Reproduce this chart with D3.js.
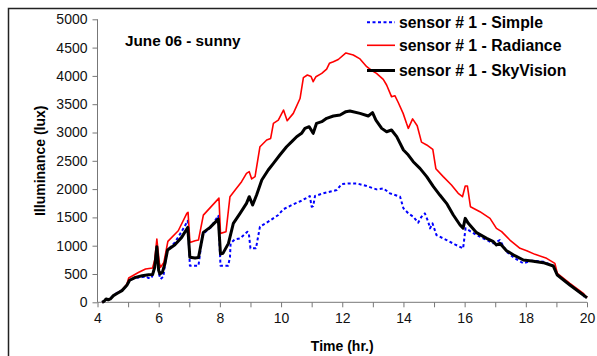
<!DOCTYPE html>
<html>
<head>
<meta charset="utf-8">
<script src="https://cdn.jsdelivr.net/npm/d3@7"></script>
<style>
  body { margin: 0; background: #fff; }
  svg { display: block; font-family: "Liberation Sans", Arial, sans-serif; }
</style>
</head>
<body>
<svg id="chart"></svg>
<script>
/// data: [time (hr), illuminance (lux)] ///
const simple = [[4.15,0],[4.22,20],[4.28,60],[4.35,50],[4.42,65],[4.52,120],[4.65,170],[4.8,215],[4.96,300],[5.05,390],[5.24,430],[5.46,445],[5.6,455],[5.66,430],[5.77,430],[5.87,620],[5.94,1000],[6.02,480],[6.06,412],[6.15,450],[6.27,910],[6.53,1058],[6.75,1250],[6.95,1440],[7.02,647],[7.3,647],[7.44,1205],[7.68,1311],[7.95,1529],[8.02,647],[8.27,647],[8.33,794],[8.35,1041],[8.49,1112],[8.66,1129],[8.9,1247],[8.95,1200],[9.0,953],[9.18,953],[9.31,1336],[9.58,1424],[9.91,1542],[10.07,1642],[10.35,1718],[10.67,1795],[10.94,1877],[11.0,1689],[11.05,1700],[11.11,1877],[11.38,1925],[11.82,1984],[11.98,2090],[12.2,2101],[12.47,2101],[12.8,2054],[13.12,1995],[13.34,2013],[13.56,1925],[13.89,1866],[14.0,1660],[14.16,1571],[14.32,1512],[14.48,1406],[14.59,1512],[14.7,1571],[14.81,1424],[14.87,1306],[14.95,1395],[15.08,1188],[15.41,1100],[15.68,1023],[15.95,953],[16.03,1307],[16.39,1189],[16.94,1042],[17.15,1100],[17.37,894],[17.64,777],[17.92,688],[18.19,735],[18.57,718],[18.9,641],[19.03,482],[19.44,305],[19.88,129],[19.93,87],[20.0,80]];

const radiance = [[4.15,0],[4.22,20],[4.28,60],[4.35,45],[4.42,65],[4.52,120],[4.65,165],[4.8,215],[4.96,320],[5.02,430],[5.35,530],[5.57,588],[5.8,605],[5.87,750],[5.94,1117],[6.02,700],[6.06,617],[6.17,705],[6.3,1076],[6.64,1264],[6.92,1570],[6.96,1590],[7.02,1058],[7.19,1088],[7.3,1100],[7.46,1540],[7.97,1840],[8.02,1218],[8.2,1247],[8.33,1866],[8.5,1984],[8.71,2131],[8.87,2278],[8.96,2308],[9.04,2180],[9.15,2219],[9.31,2749],[9.53,2867],[9.66,2896],[9.75,3162],[9.91,3220],[10.08,3397],[10.2,3209],[10.4,3338],[10.62,3600],[10.73,3970],[10.86,4016],[10.98,3990],[11.05,3898],[11.14,3986],[11.33,4045],[11.49,4120],[11.58,4222],[11.71,4251],[11.87,4290],[12.12,4405],[12.36,4370],[12.58,4300],[12.8,4163],[12.95,4100],[13.12,4045],[13.34,3940],[13.45,3839],[13.61,3633],[13.72,3650],[13.83,3530],[13.99,3338],[14.1,3162],[14.16,3073],[14.3,3240],[14.45,3120],[14.59,2830],[14.76,2780],[14.96,2700],[15.06,2360],[15.3,2220],[15.57,2072],[15.79,1925],[15.93,1866],[16.02,2055],[16.09,2055],[16.19,1689],[16.5,1601],[16.83,1483],[17.04,1307],[17.21,1248],[17.48,1100],[17.81,953],[18.03,912],[18.3,847],[18.68,777],[18.95,688],[19.03,511],[19.44,335],[19.88,158],[19.98,87],[20.0,110]];

const skyVision = [[4.15,0],[4.22,20],[4.28,60],[4.35,45],[4.42,60],[4.52,118],[4.65,160],[4.8,206],[4.96,300],[5.05,390],[5.24,441],[5.46,470],[5.67,488],[5.8,490],[5.87,620],[5.94,982],[6.0,560],[6.04,500],[6.12,530],[6.2,676],[6.29,923],[6.53,1017],[6.75,1147],[6.95,1323],[7.02,794],[7.19,782],[7.3,790],[7.46,1235],[7.68,1323],[7.95,1470],[8.02,853],[8.1,864],[8.28,1041],[8.44,1394],[8.66,1571],[8.87,1748],[8.96,1866],[9.07,1718],[9.2,1895],[9.37,2160],[9.58,2337],[9.75,2455],[9.96,2602],[10.18,2749],[10.35,2838],[10.51,2926],[10.67,2985],[10.78,3073],[10.92,3103],[11.05,2985],[11.16,3162],[11.33,3191],[11.49,3250],[11.71,3291],[11.93,3309],[12.12,3368],[12.25,3380],[12.58,3338],[12.85,3291],[12.99,3350],[13.1,3220],[13.29,3073],[13.45,3014],[13.61,3044],[13.78,2926],[14.0,2690],[14.16,2602],[14.32,2484],[14.54,2366],[14.76,2220],[14.98,2043],[15.19,1895],[15.41,1748],[15.63,1542],[15.85,1366],[15.95,1310],[16.02,1483],[16.12,1395],[16.39,1230],[16.72,1130],[16.94,1071],[17.04,1012],[17.15,1042],[17.37,912],[17.64,824],[17.92,747],[18.19,729],[18.57,700],[18.9,641],[19.03,482],[19.44,305],[19.88,129],[19.95,100],[20.0,80]];

const seriesNames = ["sensor # 1 - Simple", "sensor # 1 - Radiance", "sensor # 1 - SkyVision"];
const yTicks = [0, 500, 1000, 1500, 2000, 2500, 3000, 3500, 4000, 4500, 5000];
const xTicks = [4, 5, 6, 7, 8, 9, 10, 11, 12, 13, 14, 15, 16, 17, 18, 19, 20];
const title = "June 06 - sunny";

/// dimensions ///
const width = 597, height = 356;
const margin = {top: 19.3, right: 10, bottom: 53.7, left: 97.5};

const svg = d3.select("#chart").attr("width", width).attr("height", height);

// outer frame (runs off the right and bottom edges)
svg.append("rect")
  .attr("x", 8.5).attr("y", 8.5)
  .attr("width", 640).attr("height", 400)
  .attr("fill", "none").attr("stroke", "#222").attr("stroke-width", 1.5);

/// scales ///
const x = d3.scaleLinear().domain([4, 20]).range([margin.left, width - margin.right]);
const y = d3.scaleLinear().domain([0, 5000]).range([height - margin.bottom, margin.top]);

/// axes ///
const axisColor = "#777";
svg.append("g")
  .attr("transform", `translate(0,${y(0)})`)
  .call(d3.axisBottom(x).tickValues(xTicks).tickSize(5).tickPadding(6)
    .tickFormat(d => d % 2 === 0 ? d : ""))
  .call(g => g.select(".domain").attr("stroke", axisColor).attr("d", `M${x(4)},0H${x(20)}`))
  .call(g => g.selectAll(".tick line").attr("stroke", axisColor))
  .call(g => g.selectAll(".tick text").attr("font-size", 14).attr("fill", "#111")
    .attr("font-family", "Liberation Sans, Arial, sans-serif"));

svg.append("g")
  .attr("transform", `translate(${x(4)},0)`)
  .call(d3.axisLeft(y).tickValues(yTicks).tickSize(5).tickPadding(5).tickFormat(d3.format("d")))
  .call(g => g.select(".domain").attr("stroke", axisColor).attr("d", `M0,${y(0)}V${y(5000)}`))
  .call(g => g.selectAll(".tick line").attr("stroke", axisColor))
  .call(g => g.selectAll(".tick text").attr("font-size", 14).attr("fill", "#111")
    .attr("font-family", "Liberation Sans, Arial, sans-serif"));

// axis titles
svg.append("text")
  .attr("x", (x(4) + x(20)) / 2).attr("y", 351)
  .attr("text-anchor", "middle").attr("font-size", 14).attr("font-weight", "bold")
  .text("Time (hr.)");

svg.append("text")
  .attr("transform", `translate(45,${(y(0) + y(5000)) / 2}) rotate(-90)`)
  .attr("text-anchor", "middle").attr("font-size", 14).attr("font-weight", "bold")
  .text("Illuminance (lux)");

svg.append("text")
  .attr("x", 125).attr("y", 46)
  .attr("font-size", 15.3).attr("font-weight", "bold")
  .text(title);

/// lines ///
const line = d3.line().x(d => x(d[0])).y(d => y(d[1]));
const styles = [
  {data: simple, color: "#0000ff", width: 2, dash: "3,2.5"},
  {data: radiance, color: "#ff0000", width: 1.6, dash: null},
  {data: skyVision, color: "#000000", width: 3, dash: null}
];

svg.append("g")
  .selectAll("path")
  .data(styles)
  .join("path")
    .attr("d", d => line(d.data))
    .attr("fill", "none")
    .attr("stroke", d => d.color)
    .attr("stroke-width", d => d.width)
    .attr("stroke-dasharray", d => d.dash)
    .attr("stroke-linejoin", "round");

/// legend ///
const legendY = [22.3, 45.3, 70.5];
const legend = svg.append("g")
  .selectAll("g")
  .data(styles)
  .join("g")
    .attr("transform", (d, i) => `translate(367,${legendY[i]})`);

legend.append("line")
  .attr("x1", 0).attr("x2", 28)
  .attr("stroke", d => d.color)
  .attr("stroke-width", d => d.width)
  .attr("stroke-dasharray", d => d.dash);

legend.append("text")
  .attr("x", 32).attr("dy", "0.36em")
  .attr("font-size", 15.8).attr("font-weight", "bold")
  .text((d, i) => seriesNames[i]);
</script>
</body>
</html>
